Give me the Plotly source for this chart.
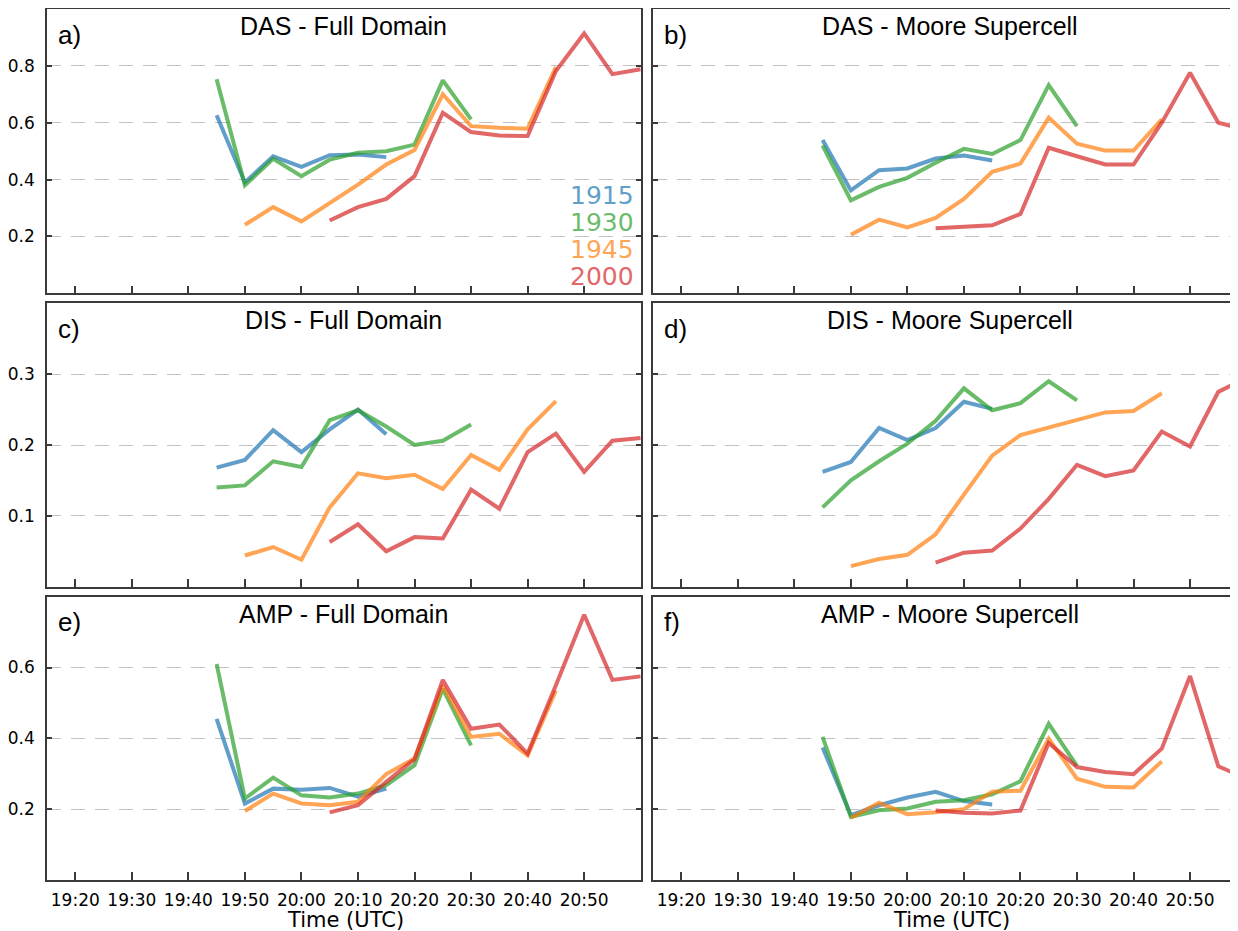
import plotly.graph_objects as go

N = None
times = ["19:45", "19:50", "19:55", "20:00", "20:05", "20:10", "20:15", "20:20",
         "20:25", "20:30", "20:35", "20:40", "20:45", "20:50", "20:55", "21:00"]
runs = ["1915", "1930", "1945", "2000"]
run_colors = ["#1f77b4", "#2ca02c", "#ff7f0e", "#d62728"]
legend_colors = ["#62a0ca", "#6bbc6b", "#ffa556", "#e26869"]

panel_titles = ["DAS - Full Domain", "DAS - Moore Supercell",
                "DIS - Full Domain", "DIS - Moore Supercell",
                "AMP - Full Domain", "AMP - Moore Supercell"]
panel_letters = ["a)", "b)", "c)", "d)", "e)", "f)"]

das_full = {
    "1915": [0.626, 0.390, 0.482, 0.445, 0.486, 0.488, 0.479, N, N, N, N, N, N, N, N, N],
    "1930": [0.753, 0.380, 0.473, 0.412, 0.470, 0.494, 0.500, 0.523, 0.749, 0.612, N, N, N, N, N, N],
    "1945": [N, 0.241, 0.303, 0.253, 0.318, 0.382, 0.453, 0.504, 0.700, 0.588, 0.582, 0.579, 0.796, N, N, N],
    "2000": [N, N, N, N, 0.256, 0.303, 0.332, 0.412, 0.635, 0.567, 0.555, 0.553, 0.782, 0.914, 0.771, 0.788],
}
das_moore = {
    "1915": [0.539, 0.362, 0.433, 0.439, 0.474, 0.485, 0.467, N, N, N, N, N, N, N, N, N],
    "1930": [0.520, 0.327, 0.374, 0.406, 0.459, 0.508, 0.490, 0.539, 0.732, 0.588, N, N, N, N, N, N],
    "1945": [N, 0.206, 0.259, 0.232, 0.265, 0.332, 0.427, 0.456, 0.618, 0.526, 0.502, 0.502, 0.612, N, N, N],
    "2000": [N, N, N, N, 0.229, 0.235, 0.239, 0.279, 0.512, 0.482, 0.453, 0.453, 0.600, 0.776, 0.600, 0.575],
}
dis_full = {
    "1915": [0.168, 0.179, 0.221, 0.190, 0.222, 0.250, 0.215, N, N, N, N, N, N, N, N, N],
    "1930": [0.140, 0.143, 0.177, 0.169, 0.235, 0.249, 0.226, 0.200, 0.206, 0.229, N, N, N, N, N, N],
    "1945": [N, 0.044, 0.056, 0.038, 0.112, 0.160, 0.153, 0.158, 0.138, 0.186, 0.165, 0.222, 0.262, N, N, N],
    "2000": [N, N, N, N, 0.063, 0.088, 0.050, 0.070, 0.068, 0.137, 0.110, 0.190, 0.216, 0.162, 0.206, 0.210],
}
dis_moore = {
    "1915": [0.162, 0.176, 0.224, 0.207, 0.224, 0.261, 0.251, N, N, N, N, N, N, N, N, N],
    "1930": [0.112, 0.150, 0.177, 0.202, 0.234, 0.280, 0.249, 0.259, 0.290, 0.263, N, N, N, N, N, N],
    "1945": [N, 0.029, 0.039, 0.045, 0.074, 0.130, 0.185, 0.214, 0.225, 0.236, 0.246, 0.248, 0.273, N, N, N],
    "2000": [N, N, N, N, 0.034, 0.048, 0.051, 0.082, 0.124, 0.172, 0.156, 0.164, 0.219, 0.198, 0.275, 0.295],
}
amp_full = {
    "1915": [0.455, 0.216, 0.258, 0.255, 0.260, 0.235, 0.258, N, N, N, N, N, N, N, N, N],
    "1930": [0.610, 0.230, 0.289, 0.239, 0.233, 0.244, 0.268, 0.324, 0.540, 0.380, N, N, N, N, N, N],
    "1945": [N, 0.195, 0.244, 0.216, 0.211, 0.221, 0.299, 0.343, 0.549, 0.404, 0.413, 0.352, 0.535, N, N, N],
    "2000": [N, N, N, N, 0.191, 0.211, 0.277, 0.341, 0.565, 0.427, 0.439, 0.357, 0.550, 0.749, 0.565, 0.575],
}
amp_moore = {
    "1915": [0.374, 0.183, 0.211, 0.233, 0.249, 0.223, 0.213, N, N, N, N, N, N, N, N, N],
    "1930": [0.404, 0.178, 0.197, 0.202, 0.221, 0.225, 0.242, 0.279, 0.441, 0.322, N, N, N, N, N, N],
    "1945": [N, 0.176, 0.218, 0.186, 0.191, 0.200, 0.249, 0.252, 0.399, 0.286, 0.263, 0.261, 0.335, N, N, N],
    "2000": [N, N, N, N, 0.196, 0.190, 0.188, 0.196, 0.387, 0.319, 0.305, 0.299, 0.371, 0.576, 0.321, 0.287],
}
panels = [das_full, das_moore, dis_full, dis_moore, amp_full, amp_moore]

y_ranges = [[0, 1.0], [0, 0.4], [0, 0.8]]
y_ticks = [[0.2, 0.4, 0.6, 0.8], [0.1, 0.2, 0.3], [0.2, 0.4, 0.6]]
x_ticks = ["19:20", "19:30", "19:40", "19:50", "20:00", "20:10", "20:20", "20:30", "20:40", "20:50"]

DAY = "2013-05-20 "
xs = [DAY + t for t in times]

# page body adds an 8px margin; work in screen pixels and compensate
OFF = 8
W, H = 1238 - OFF, 931 - OFF
def px(x):
    return (x - OFF) / W
def py(y):
    return 1 - (y - OFF) / H

col_dom = [(47, 640.7), (653, 1238)]
col_range = [[DAY + "19:15:00", DAY + "21:00:00"], [DAY + "19:15:00", DAY + "20:58:29"]]
row_dom = [(9, 293.3), (303.3, 586.7), (596.7, 880)]

fig = go.Figure()
layout = {}
annotations = []
frame = "#3a3a3a"
tickfont = dict(family="DejaVu Sans", size=17, color="black")

for i, data in enumerate(panels):
    r, c = divmod(i, 2)
    n = i + 1
    xa = "x" if n == 1 else f"x{n}"
    ya = "y" if n == 1 else f"y{n}"
    for k, run in enumerate(runs):
        fig.add_trace(go.Scatter(
            x=xs, y=data[run], mode="lines", xaxis=xa, yaxis=ya,
            line=dict(color=run_colors[k], width=4), opacity=0.7,
            showlegend=False, hoverinfo="skip"))
    x0, x1 = col_dom[c]
    yt, yb = row_dom[r]
    layout["xaxis" if n == 1 else f"xaxis{n}"] = dict(
        domain=[px(x0), min(px(x1), 1.0)], range=col_range[c], anchor=ya,
        type="date", tickvals=[DAY + t for t in x_ticks], ticktext=x_ticks,
        showticklabels=(r == 2), ticks="inside", ticklen=8, tickwidth=1.5,
        tickcolor=frame, showline=True, mirror=True, linecolor=frame,
        linewidth=1.5, showgrid=False, zeroline=False, tickfont=tickfont,
        ticklabelstandoff=4)
    layout["yaxis" if n == 1 else f"yaxis{n}"] = dict(
        domain=[py(yb), py(yt)], range=y_ranges[r], anchor=xa,
        tickvals=y_ticks[r], ticktext=[f"{v:.1f}" for v in y_ticks[r]],
        showticklabels=(c == 0), ticks="inside", ticklen=5, tickwidth=1.5,
        tickcolor=frame, showline=True,
        mirror=("ticks" if c == 0 else False), linecolor=frame, linewidth=1.5,
        showgrid=True, gridcolor="#c2c2c2", gridwidth=1.3, griddash="14px,10px",
        zeroline=False, tickfont=tickfont, ticklabelstandoff=7)
    cx = (x0 + (x1 if c == 0 else 1246.5)) / 2
    annotations.append(dict(
        x=px(cx), y=py(yt + 17), xref="paper", yref="paper",
        text=panel_titles[i], showarrow=False, xanchor="center", yanchor="middle",
        font=dict(family="Liberation Sans, Arial", size=25, color="black")))
    annotations.append(dict(
        x=px(x0 + 9), y=py(yt + 25.5), xref="paper", yref="paper",
        text=panel_letters[i], showarrow=False, xanchor="left", yanchor="middle",
        font=dict(family="Liberation Sans, Arial", size=26, color="black")))

for c, cx in enumerate([345, 951]):
    annotations.append(dict(
        x=px(cx), y=py(920), xref="paper", yref="paper", text="Time (UTC)",
        showarrow=False, xanchor="center", yanchor="middle",
        font=dict(family="DejaVu Sans", size=21, color="black")))

for k, run in enumerate(runs):
    annotations.append(dict(
        x=px(636), y=py(195 + 27.3 * k), xref="paper", yref="paper", text=run,
        showarrow=False, xanchor="right", yanchor="middle",
        font=dict(family="DejaVu Sans", size=25, color=legend_colors[k])))

fig.update_layout(
    width=W, height=H, margin=dict(l=0, r=0, t=0, b=0),
    paper_bgcolor="white", plot_bgcolor="white",
    annotations=annotations, **layout)

fig.write_html("out.html")
